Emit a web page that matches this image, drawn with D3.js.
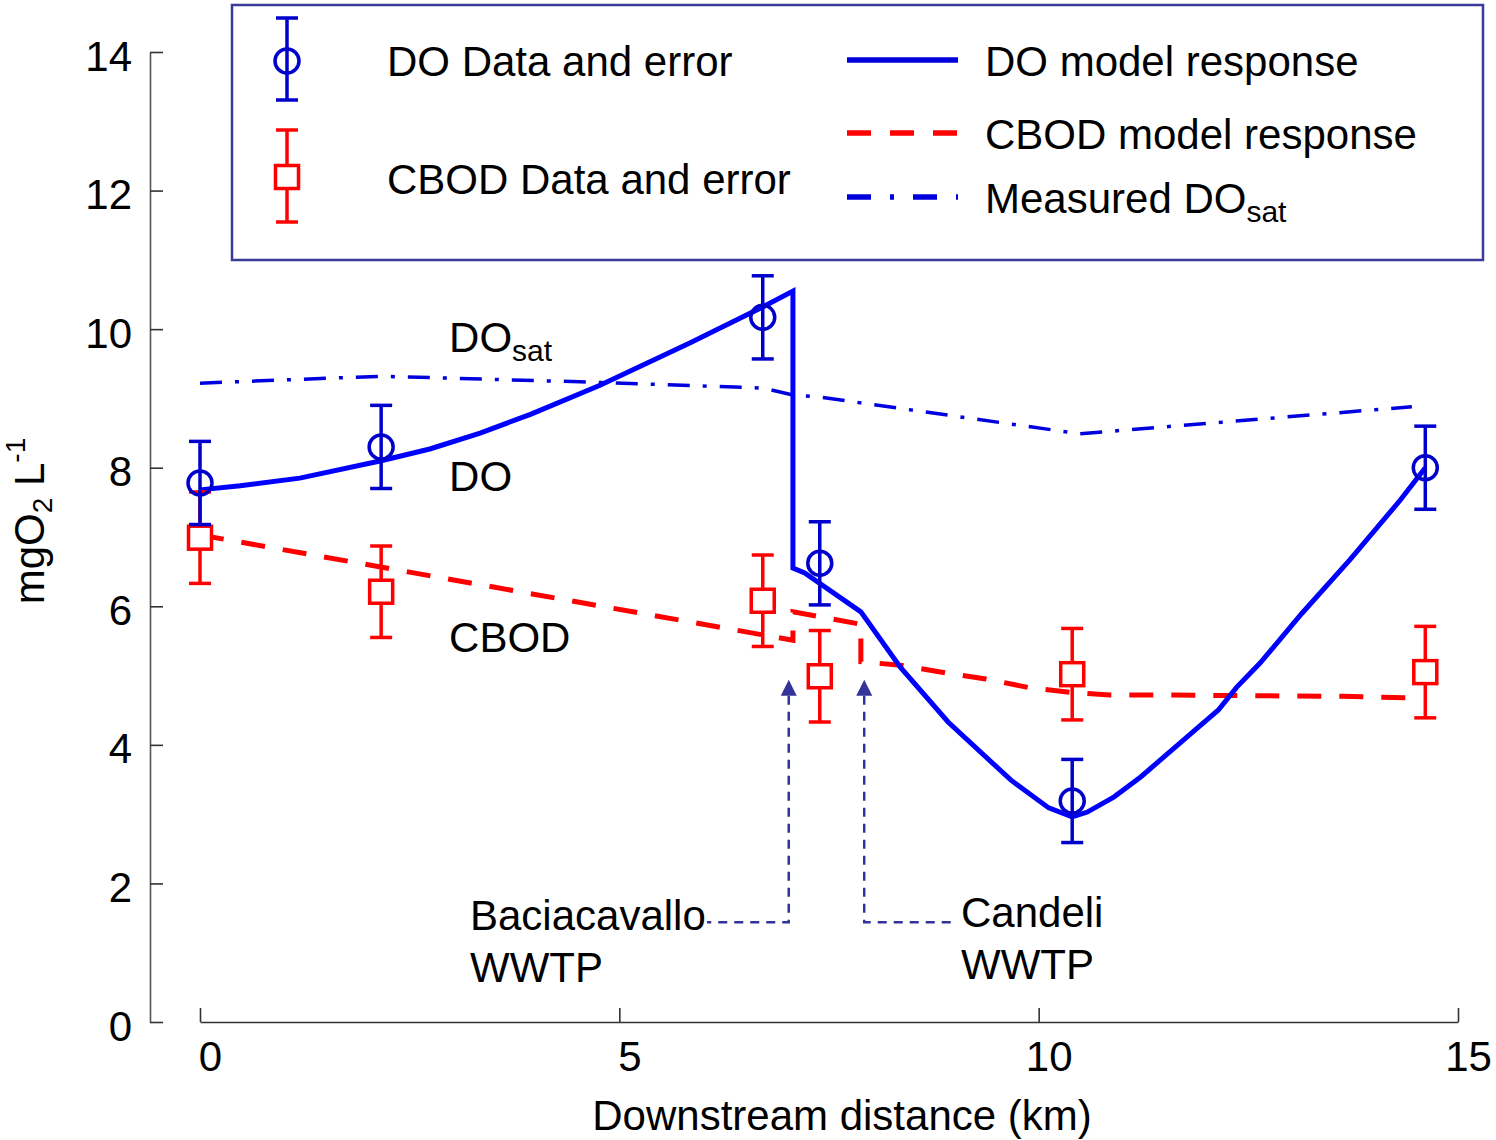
<!DOCTYPE html>
<html><head><meta charset="utf-8">
<script src="https://cdn.jsdelivr.net/npm/d3@7"></script>
<style>
html,body{margin:0;padding:0;background:#fff;}
svg{display:block;}
text{font-family:"Liberation Sans",Arial,Helvetica,sans-serif;fill:#000;}
</style>
</head><body>
<svg id="chart" width="1496" height="1140"></svg>
<script>
// ---------- data ----------
const xTicks = [0, 5, 10, 15];
const yTicks = [0, 2, 4, 6, 8, 10, 12, 14];

const obsKm   = [0, 2.16, 6.71, 7.39, 10.40, 14.61];
const doObs   = [7.78, 8.30, 10.17, 6.62, 3.19, 8.00];
const doErr   = [0.60, 0.60, 0.60, 0.60, 0.60, 0.60];
const cbodObs = [6.99, 6.21, 6.08, 4.99, 5.02, 5.05];
const cbodErr = [0.66, 0.66, 0.66, 0.66, 0.66, 0.66];

const doModelKm = [0, 0.48, 1.19, 2.16, 2.74, 3.34, 3.94, 4.77, 5.84, 6.71, 7.07, 7.07, 7.21, 7.88, 8.35, 8.92, 9.67, 10.12, 10.40, 10.58, 10.90, 11.22, 11.86, 12.14, 12.36, 12.64, 13.14, 13.71, 14.31, 14.61];
const doModel   = [7.68, 7.74, 7.85, 8.10, 8.27, 8.50, 8.77, 9.19, 9.80, 10.32, 10.55, 6.55, 6.48, 5.92, 5.12, 4.33, 3.49, 3.09, 2.96, 3.03, 3.25, 3.54, 4.21, 4.50, 4.83, 5.18, 5.90, 6.67, 7.53, 8.00];

const cbodModelKm = [0, 7.07, 7.07, 7.88, 7.88, 8.35, 8.89, 9.37, 9.87, 10.37, 10.85, 11.39, 13.62, 14.43];
const cbodModel   = [7.03, 5.51, 5.92, 5.74, 5.20, 5.15, 5.04, 4.95, 4.83, 4.76, 4.72, 4.72, 4.70, 4.68];

const dosatKm = [0, 2.16, 4.53, 6.71, 7.07, 7.39, 10.49, 14.45];
const dosat   = [9.22, 9.32, 9.24, 9.15, 9.05, 9.02, 8.49, 8.88];

const wwtpKm    = [7.02, 7.92];
const wwtpNames = [["Baciacavallo", "WWTP"], ["Candeli", "WWTP"]];

// ---------- setup ----------
const svg = d3.select("#chart");
svg.append("rect").attr("width", 1496).attr("height", 1140).attr("fill", "#fff");

const x = d3.scaleLinear().domain([0, 15]).range([200, 1458]);
const y = d3.scaleLinear().domain([0, 14]).range([1022, 52]);
const FS = 42;

// ---------- axes ----------
const gy = svg.append("g").attr("transform", "translate(150,0)")
  .call(d3.axisRight(y).tickValues(yTicks).tickSize(13).tickSizeOuter(0).tickFormat(d3.format("d")));
gy.select(".domain").attr("stroke", "#555").attr("stroke-width", 1.6);
gy.selectAll(".tick line").attr("stroke", "#333").attr("stroke-width", 1.6);
gy.selectAll(".tick text").attr("x", -18).attr("dy", "0.43em").attr("text-anchor", "end")
  .attr("font-size", FS).attr("font-family", "Liberation Sans, Arial, sans-serif").attr("fill", "#000");

const gx = svg.append("g").attr("transform", "translate(0,1022)")
  .call(d3.axisTop(x).tickValues(xTicks).tickSize(14).tickSizeOuter(0).tickFormat(d3.format("d")));
gx.select(".domain").attr("stroke", "#333").attr("stroke-width", 1.6);
gx.selectAll(".tick line").attr("stroke", "#333").attr("stroke-width", 1.6);
gx.selectAll(".tick text").attr("y", 49).attr("dy", 0).attr("x", 10).attr("text-anchor", "middle")
  .attr("font-size", FS).attr("font-family", "Liberation Sans, Arial, sans-serif").attr("fill", "#000");

svg.append("text").attr("x", 842).attr("y", 1130).attr("text-anchor", "middle")
  .attr("font-size", FS).text("Downstream distance (km)");

const yl = svg.append("text").attr("transform", "translate(44,521) rotate(-90)")
  .attr("text-anchor", "middle").attr("font-size", FS);
yl.append("tspan").text("mgO");
yl.append("tspan").attr("font-size", 28).attr("dy", 8).text("2");
yl.append("tspan").attr("dy", -8).text(" L");
yl.append("tspan").attr("font-size", 28).attr("dy", -19).text("-1");

// ---------- model lines ----------
const line = d3.line().x(d => x(d[0])).y(d => y(d[1]));
const zip = (a, b) => a.map((v, i) => [v, b[i]]);

svg.append("path").datum(zip(dosatKm, dosat)).attr("d", line)
  .attr("fill", "none").attr("stroke", "#0000E0").attr("stroke-width", 3.5)
  .attr("stroke-dasharray", "22,13,4,13");

svg.append("path").datum(zip(cbodModelKm, cbodModel)).attr("d", line)
  .attr("fill", "none").attr("stroke", "#FF0000").attr("stroke-width", 5)
  .attr("stroke-dasharray", "24,18");

svg.append("path").datum(zip(doModelKm, doModel)).attr("d", line)
  .attr("fill", "none").attr("stroke", "#0000FF").attr("stroke-width", 5);

// ---------- error bars ----------
function errBar(g, cx, yv, e, color, shape) {
  const yt = y(yv + e), yb = y(yv - e), yc = y(yv);
  g.append("line").attr("x1", cx).attr("x2", cx).attr("y1", yt).attr("y2", yb)
    .attr("stroke", color).attr("stroke-width", 3.5);
  [yt, yb].forEach(v => g.append("line").attr("x1", cx - 11).attr("x2", cx + 11)
    .attr("y1", v).attr("y2", v).attr("stroke", color).attr("stroke-width", 3.5));
  if (shape === "circle") {
    g.append("circle").attr("cx", cx).attr("cy", yc).attr("r", 12)
      .attr("fill", "none").attr("stroke", color).attr("stroke-width", 3.5);
  } else {
    g.append("rect").attr("x", cx - 11.5).attr("y", yc - 11.5).attr("width", 23).attr("height", 23)
      .attr("fill", "#fff").attr("stroke", color).attr("stroke-width", 3.5);
  }
}
const gm = svg.append("g");
obsKm.forEach((k, i) => errBar(gm, x(k), cbodObs[i], cbodErr[i], "#FF0000", "square"));
obsKm.forEach((k, i) => errBar(gm, x(k), doObs[i], doErr[i], "#0000CC", "circle"));

// ---------- in-plot labels ----------
svg.append("text").attr("x", x(2.97)).attr("y", y(9.67)).attr("font-size", FS)
  .text("DO").append("tspan").attr("font-size", 30).attr("dy", 9).text("sat");
svg.append("text").attr("x", x(2.97)).attr("y", y(7.66)).attr("font-size", FS).text("DO");
svg.append("text").attr("x", x(2.97)).attr("y", y(5.34)).attr("font-size", FS).text("CBOD");

// ---------- WWTP annotations ----------
const ann = "#333399";
const tipV = 4.94, legV = 1.44;
wwtpKm.forEach((k, i) => {
  const ax = x(k), ty = y(tipV), ly = y(legV);
  svg.append("path").attr("d", `M${ax},${ty}L${ax - 8},${ty + 16}L${ax + 8},${ty + 16}Z`).attr("fill", ann);
  const hx = i === 0 ? 707 : 956;
  svg.append("path").attr("d", `M${ax},${ty + 16}V${ly}H${hx}`)
    .attr("fill", "none").attr("stroke", ann).attr("stroke-width", 2.5).attr("stroke-dasharray", "9,7");
});
const tx = [470, 961], tb = [930, 927];
wwtpNames.forEach((nm, i) => {
  svg.append("text").attr("x", tx[i]).attr("y", tb[i]).attr("font-size", FS).text(nm[0]);
  svg.append("text").attr("x", tx[i]).attr("y", tb[i] + 52).attr("font-size", FS).text(nm[1]);
});

// ---------- legend ----------
const lg = svg.append("g");
lg.append("rect").attr("x", 232).attr("y", 5).attr("width", 1251).attr("height", 255)
  .attr("fill", "#fff").attr("stroke", "#3a3a9a").attr("stroke-width", 2.5);

// DO data
(function () {
  const cx = 287;
  lg.append("line").attr("x1", cx).attr("x2", cx).attr("y1", 18).attr("y2", 100).attr("stroke", "#0000CC").attr("stroke-width", 3.5);
  [18, 100].forEach(v => lg.append("line").attr("x1", cx - 11).attr("x2", cx + 11).attr("y1", v).attr("y2", v).attr("stroke", "#0000CC").attr("stroke-width", 3.5));
  lg.append("circle").attr("cx", cx).attr("cy", 61).attr("r", 12).attr("fill", "none").attr("stroke", "#0000CC").attr("stroke-width", 3.5);
  lg.append("line").attr("x1", cx).attr("x2", cx).attr("y1", 130).attr("y2", 222).attr("stroke", "#FF0000").attr("stroke-width", 3.5);
  [130, 222].forEach(v => lg.append("line").attr("x1", cx - 11).attr("x2", cx + 11).attr("y1", v).attr("y2", v).attr("stroke", "#FF0000").attr("stroke-width", 3.5));
  lg.append("rect").attr("x", cx - 11.5).attr("y", 165.5).attr("width", 23).attr("height", 23).attr("fill", "#fff").attr("stroke", "#FF0000").attr("stroke-width", 3.5);
})();
lg.append("text").attr("x", 387).attr("y", 76).attr("font-size", FS).text("DO Data and error");
lg.append("text").attr("x", 387).attr("y", 194).attr("font-size", FS).text("CBOD Data and error");

lg.append("line").attr("x1", 847).attr("x2", 958).attr("y1", 60).attr("y2", 60).attr("stroke", "#0000DD").attr("stroke-width", 5.5);
lg.append("line").attr("x1", 847).attr("x2", 958).attr("y1", 133).attr("y2", 133).attr("stroke", "#FF0000").attr("stroke-width", 5.5).attr("stroke-dasharray", "24,19");
lg.append("line").attr("x1", 847).attr("x2", 958).attr("y1", 197).attr("y2", 197).attr("stroke", "#0000DD").attr("stroke-width", 5.5).attr("stroke-dasharray", "24,19,4,19");
lg.append("text").attr("x", 985).attr("y", 76).attr("font-size", FS).text("DO model response");
lg.append("text").attr("x", 985).attr("y", 149).attr("font-size", FS).text("CBOD model response");
lg.append("text").attr("x", 985).attr("y", 213).attr("font-size", FS).text("Measured DO")
  .append("tspan").attr("font-size", 30).attr("dy", 9).text("sat");
</script>
</body></html>
